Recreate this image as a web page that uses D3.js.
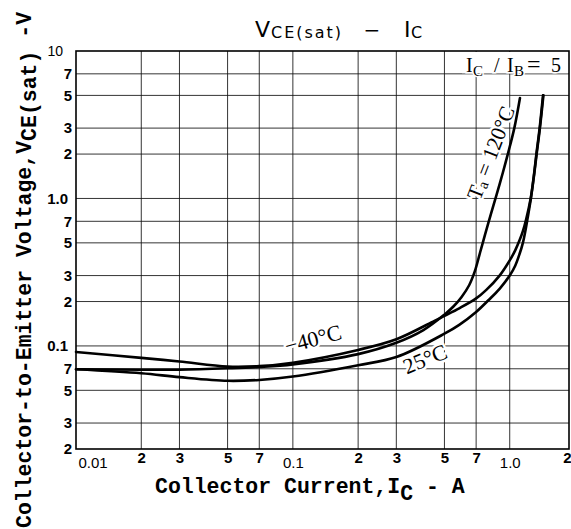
<!DOCTYPE html>
<html><head><meta charset="utf-8">
<script src="https://cdn.jsdelivr.net/npm/d3@7"></script>
<style>body{margin:0;background:#fff}svg{display:block}</style>
</head><body>
<svg id="c" width="571" height="529"></svg>
<script>
// ---- data ----
const xTicks = [0.01,0.02,0.03,0.05,0.07,0.1,0.2,0.3,0.5,0.7,1,2];
const xTickLabels = ["0.01","2","3","5","7","0.1","2","3","5","7","1.0","2"];
const yTicks = [0.02,0.03,0.05,0.07,0.1,0.2,0.3,0.5,0.7,1,2,3,5,7,10];
const yTickLabels = ["2","3","5","7","0.1","2","3","5","7","1.0","2","3","5","7","10"];

const seriesNames = ["Ta=120°C","−40°C","25°C"];
// Ta = 120°C
const icHot = [0.01,0.02,0.03,0.05,0.07,0.1,0.2,0.3,0.4,0.5,0.55,0.6,0.65,0.69,0.73,0.77,0.82,0.87,0.93,0.98,1.05,1.115];
const vHot  = [0.0695,0.069,0.069,0.0705,0.072,0.075,0.088,0.105,0.128,0.163,0.185,0.215,0.258,0.32,0.43,0.57,0.79,1.06,1.5,2.0,3.0,4.8];
// Ta = -40°C
const icCold = [0.01,0.02,0.03,0.05,0.07,0.1,0.2,0.3,0.45,0.5,0.585,0.7,0.78,0.898,1.0,1.06,1.11,1.15,1.19,1.249,1.29,1.327,1.374,1.424];
const vCold  = [0.091,0.083,0.0785,0.0725,0.073,0.077,0.094,0.111,0.148,0.16,0.18,0.21,0.24,0.3,0.38,0.445,0.52,0.6,0.72,1.0,1.4,2.0,3.0,5.0];
// Ta = 25°C
const icRoom = [0.01,0.02,0.03,0.05,0.07,0.1,0.2,0.3,0.5,0.585,0.7,0.8,0.9,1.0,1.06,1.11,1.15,1.18,1.21,1.252,1.292,1.331,1.378,1.43];
const vRoom  = [0.0695,0.0653,0.0614,0.058,0.0588,0.062,0.074,0.084,0.121,0.139,0.17,0.205,0.245,0.3,0.35,0.42,0.5,0.6,0.74,1.0,1.4,2.0,3.0,5.0];

(function () {
// ---- layout ----
const W = 571, H = 529;
const svg = d3.select("#c");
const x = d3.scaleLog().domain([0.01, 2]).range([76, 575]);
const y = d3.scaleLog().domain([0.02, 10]).range([449, 51]);
const pL = x(0.01), pT = y(10), pB = y(0.02);
const pR = Math.min(x(2), W - 2);

// grid
const g = svg.append("g").attr("stroke", "#111").attr("stroke-width", 0.85);
g.selectAll("line.v").data(xTicks.slice(1, -1)).join("line").attr("class", "v")
  .attr("x1", d => x(d)).attr("x2", d => x(d)).attr("y1", pT).attr("y2", pB);
g.selectAll("line.h").data(yTicks.slice(1, -1)).join("line").attr("class", "h")
  .attr("x1", pL).attr("x2", pR).attr("y1", d => y(d)).attr("y2", d => y(d));

// legend box (IC/IB = 5)
svg.append("rect").attr("x", 462).attr("y", pT + 1).attr("width", pR - 462 - 1)
  .attr("height", y(7) - pT - 1.6).attr("fill", "#fff");
const leg = svg.append("text").attr("font-family", "Liberation Serif").attr("font-size", 20)
  .attr("y", 72).attr("fill", "#000")
  .attr("paint-order", "stroke").attr("stroke", "#fff").attr("stroke-width", 3);
leg.append("tspan").attr("x", 466).text("I");
leg.append("tspan").attr("x", 473).attr("dy", 4).attr("font-size", 15).text("C");
leg.append("tspan").attr("x", 494).attr("dy", -4).text("/");
leg.append("tspan").attr("x", 507).text("I");
leg.append("tspan").attr("x", 514).attr("dy", 4).attr("font-size", 15).text("B");
leg.append("tspan").attr("x", 527).attr("dy", -4).attr("font-size", 24).text("=");
leg.append("tspan").attr("x", 551).text("5");

// frame
svg.append("rect").attr("x", pL).attr("y", pT).attr("width", pR - pL).attr("height", pB - pT)
  .attr("fill", "none").attr("stroke", "#000").attr("stroke-width", 1.6);

// axes
const xAxis = svg.append("g").attr("transform", `translate(0,${pB})`)
  .call(d3.axisBottom(x).tickValues(xTicks).tickFormat((d, i) => xTickLabels[i]).tickSize(0).tickPadding(3));
const yAxis = svg.append("g").attr("transform", `translate(${pL},0)`)
  .call(d3.axisLeft(y).tickValues(yTicks).tickFormat((d, i) => yTickLabels[i]).tickSize(0).tickPadding(4));
[xAxis, yAxis].forEach(a => {
  a.select(".domain").remove();
  a.selectAll("text").attr("font-family", "Liberation Sans").attr("font-size", 15)
    .attr("font-weight", "bold").attr("fill", "#000");
});
xAxis.selectAll(".tick text").each(function (d, i) {
  const t = d3.select(this);
  const lab = xTickLabels[i];
  if (lab.includes(".")) t.attr("y", 8).attr("font-weight", "normal");
  if (i === 0) t.attr("text-anchor", "start").attr("x", 2);
  if (i === xTicks.length - 1) t.attr("text-anchor", "end").attr("x", W - x(2));
});
yAxis.selectAll(".tick text").each(function (d, i) {
  const t = d3.select(this);
  const lab = yTickLabels[i];
  if (lab.includes(".")) t.attr("x", -8);
  if (lab === "10") t.attr("x", -13).attr("font-weight", "normal").attr("font-size", 14);
});

// titles
const mono = "Liberation Mono";
const xt = svg.append("text").attr("x", 155).attr("y", 493).attr("font-family", mono)
  .attr("font-weight", "bold").attr("font-size", 21.5).attr("fill", "#000");
xt.append("tspan").text("Collector Current,I");
xt.append("tspan").attr("dy", 7).text("C");
xt.append("tspan").attr("dy", -7).text(" - A");

const yt = svg.append("text").attr("transform", "translate(31,528) rotate(-90)")
  .attr("font-family", mono).attr("font-weight", "bold").attr("font-size", 21.5).attr("fill", "#000");
yt.append("tspan").text("Collector-to-Emitter Voltage,V");
yt.append("tspan").attr("dy", 5).text("CE(sat)");
yt.append("tspan").attr("dy", -5).text(" -V");

const sans = "DejaVu Sans";
svg.append("text").attr("x", 255).attr("y", 37).attr("font-family", sans).attr("font-size", 22).text("V");
svg.append("text").attr("x", 271).attr("y", 38).attr("font-family", sans).attr("font-size", 16)
  .attr("textLength", 70).attr("lengthAdjust", "spacing").text("CE(sat)");
svg.append("text").attr("x", 372).attr("y", 37).attr("text-anchor", "middle").attr("font-family", sans).attr("font-size", 20).text("−");
svg.append("text").attr("x", 404).attr("y", 37).attr("font-family", sans).attr("font-size", 22).text("I");
svg.append("text").attr("x", 411).attr("y", 38).attr("font-family", sans).attr("font-size", 16).text("C");

// curve labels
const serif = "Liberation Serif";
function halo(sel) {
  return sel.attr("paint-order", "stroke").attr("stroke", "#fff").attr("stroke-width", 5)
    .attr("stroke-linejoin", "round").attr("fill", "#000");
}
const lh = halo(svg.append("text").attr("transform", "translate(491,153) rotate(-69)")
  .attr("text-anchor", "middle").attr("dominant-baseline", "central")
  .attr("font-family", serif).attr("font-size", 21.5));
lh.append("tspan").text("T");
lh.append("tspan").attr("dy", 4).attr("font-size", 15).text("a");
lh.append("tspan").attr("dy", -4).text(" = 120°C");

halo(svg.append("text").attr("transform", "translate(313,339) rotate(-15)")
  .attr("text-anchor", "middle").attr("dominant-baseline", "central")
  .attr("font-family", serif).attr("font-size", 22)).text(seriesNames[1]);
halo(svg.append("text").attr("transform", "translate(425,359) rotate(-22)")
  .attr("text-anchor", "middle").attr("dominant-baseline", "central")
  .attr("font-family", serif).attr("font-size", 22)).text(seriesNames[2]);

// curves
const series = [
  { name: seriesNames[0], ic: icHot, v: vHot },
  { name: seriesNames[1], ic: icCold, v: vCold },
  { name: seriesNames[2], ic: icRoom, v: vRoom }
];
const line = d3.line().x(d => x(d[0])).y(d => y(d[1])).curve(d3.curveCatmullRom.alpha(0.5));
svg.append("g").selectAll("path").data(series).join("path")
  .attr("d", s => line(s.ic.map((c, i) => [c, s.v[i]])))
  .attr("fill", "none").attr("stroke", "#000").attr("stroke-width", 2.6)
  .attr("stroke-linejoin", "round").attr("stroke-linecap", "round");
})();
</script>
</body></html>
